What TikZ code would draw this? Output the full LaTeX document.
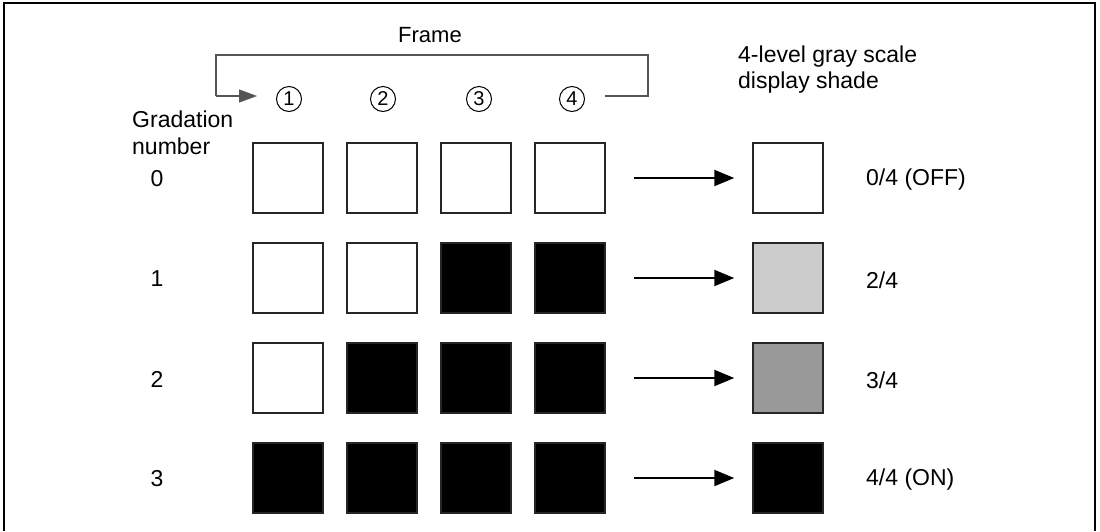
\documentclass[tikz,border=0pt]{standalone}
\usepackage{fontspec}
\setmainfont{Liberation Sans}
\usetikzlibrary{arrows.meta}
\definecolor{lightshade}{HTML}{CCCCCC}
\definecolor{midshade}{HTML}{999999}
\definecolor{brkcol}{HTML}{555555}
\tikzset{
  cell/.style={draw=black!85, line width=1.5pt, minimum size=70pt, inner sep=0pt, fill=white},
  oncell/.style={cell, fill=black},
  lbl/.style={font=\fontsize{23}{27}\selectfont, inner sep=0pt},
  circ/.style={circle, draw=black, line width=1pt, minimum size=25pt, inner sep=0pt, font=\fontsize{20}{22}\selectfont},
  arr/.style={line width=2pt, -{Triangle[length=20pt,width=16pt]}},
  brk/.style={draw=brkcol, line width=1.2pt}
}
\begin{document}
\begin{tikzpicture}[x=1pt,y=-1pt]
\useasboundingbox (0,0) rectangle (1100,531);
% outer frame (no bottom line)
\draw[line width=1.5pt] (4,531) -- (4,3) -- (1095,3) -- (1095,531);

% frame label and bracket
\node[lbl, font=\fontsize{22}{26}\selectfont] (frame) at (430,35) {Frame};
\node[circ] (c1) at (289,99) {1};
\node[circ] (c2) at (383,99) {2};
\node[circ] (c3) at (479,99) {3};
\node[circ] (c4) at (572,99) {4};
\coordinate (fr) at (648,96);
\coordinate (fl) at (216,96);
\draw[brk] ([xshift=20pt]c4.east |- fr) -- (fr) -- ++(0,-41) -| (fl);
\draw[brk, -{Triangle[length=18pt,width=13pt]}, fill=black] (fl) -- ([xshift=-19pt]c1.west |- fl);

\node[lbl, anchor=west] (gs1) at (738,57) {4-level gray scale};
\node[lbl, anchor=west] (gs2) at (738,83) {display shade};

\node[lbl, anchor=west] (gr1) at (132,119) {Gradation};
\node[lbl, anchor=west] (gr2) at (132,146) {number};

% rows
\foreach \r/\y in {0/179,1/279,2/379,3/479}{
  \node[lbl] (n\r) at (157,\y) {\r};
}
% row 0
\node[cell] (b00) at (288,178) {};
\node[cell] (b01) at (382,178) {};
\node[cell] (b02) at (476,178) {};
\node[cell] (b03) at (570,178) {};
\node[cell] (r0) at (788,178) {};
% row 1
\node[cell] (b10) at (288,278) {};
\node[cell] (b11) at (382,278) {};
\node[oncell] (b12) at (476,278) {};
\node[oncell] (b13) at (570,278) {};
\node[cell, fill=lightshade] (r1) at (788,278) {};
% row 2
\node[cell] (b20) at (288,378) {};
\node[oncell] (b21) at (382,378) {};
\node[oncell] (b22) at (476,378) {};
\node[oncell] (b23) at (570,378) {};
\node[cell, fill=midshade] (r2) at (788,378) {};
% row 3
\node[oncell] (b30) at (288,478) {};
\node[oncell] (b31) at (382,478) {};
\node[oncell] (b32) at (476,478) {};
\node[oncell] (b33) at (570,478) {};
\node[oncell] (r3) at (788,478) {};

\foreach \r in {0,1,2,3}{
  \draw[arr, shorten <=28pt, shorten >=18pt] (b\r3.east) -- (r\r.west);
}

\node[lbl, anchor=west] (s0) at (866,180) {0/4 (OFF)};
\node[lbl, anchor=west] (s1) at (866,280) {2/4};
\node[lbl, anchor=west] (s2) at (866,380) {3/4};
\node[lbl, anchor=west] (s3) at (866,480) {4/4 (ON)};
\end{tikzpicture}
\end{document}
